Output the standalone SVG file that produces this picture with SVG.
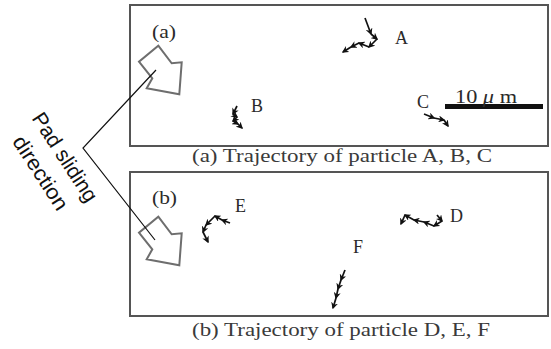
<svg xmlns="http://www.w3.org/2000/svg" width="551" height="349" viewBox="0 0 551 349">
<defs>
<style>
.box{fill:none;stroke:#555;stroke-width:2}
.lbl{font-family:"Liberation Serif","Times New Roman",serif;font-size:18px;fill:#2a2a2a}
.cap{font-family:"Liberation Serif","Times New Roman",serif;font-size:18px;fill:#3a3a3a}
.side{font-family:"Liberation Sans",Arial,sans-serif;font-size:21px;fill:#111}
.pad{fill:#fff;stroke:#6e6e6e;stroke-width:2;stroke-linejoin:miter}
.conn{fill:none;stroke:#111;stroke-width:1.2}
.tr line{stroke:#111;stroke-width:1.7;marker-end:url(#ah)}
</style>
<marker id="ah" viewBox="0 0 10 10" refX="8" refY="5" markerWidth="7" markerHeight="7" markerUnits="userSpaceOnUse" orient="auto">
<path d="M0,0 L10,5 L0,10 L3,5 z" fill="#111"/>
</marker>
<polygon id="padArrow" points="158.3,45.7 171.7,63.3 181.7,62.3 179.3,94.3 146.7,88.3 152.3,78.3 139,61.7"/>
</defs>
<g id="panel-a">
<rect class="box" x="130" y="5" width="418" height="141"/>
<text class="lbl" x="152" y="38" textLength="24" lengthAdjust="spacingAndGlyphs">(a)</text>
<use href="#padArrow" class="pad"/>
</g>
<g id="panel-b">
<rect class="box" x="130" y="172" width="418" height="144"/>
<text class="lbl" x="152" y="204" textLength="25" lengthAdjust="spacingAndGlyphs">(b)</text>
<use href="#padArrow" class="pad" transform="translate(0,171)"/>
</g>
<g id="particle-A">
<text class="lbl" x="395" y="44">A</text>
<g class="tr"><line x1="365" y1="18" x2="371" y2="34"/><line x1="371" y1="34" x2="377" y2="39"/><line x1="377" y1="39" x2="369" y2="47"/><line x1="369" y1="47" x2="359" y2="43"/><line x1="359" y1="43" x2="351" y2="47"/><line x1="351" y1="47" x2="343" y2="52"/></g>
</g>
<g id="particle-B">
<text class="lbl" x="251" y="112">B</text>
<g class="tr"><line x1="237" y1="106" x2="233" y2="114"/><line x1="233" y1="114" x2="237" y2="117"/><line x1="237" y1="117" x2="233" y2="121"/><line x1="233" y1="121" x2="238" y2="124"/><line x1="238" y1="124" x2="242" y2="128"/></g>
</g>
<g id="particle-C">
<text class="lbl" x="417" y="108">C</text>
<g class="tr"><line x1="424" y1="114" x2="434" y2="118"/><line x1="434" y1="118" x2="444" y2="120"/><line x1="444" y1="120" x2="448" y2="126"/></g>
</g>
<g id="scale-bar">
<rect x="445" y="104" width="98" height="5" fill="#111"/>
<text class="lbl" x="455" y="103" textLength="62" lengthAdjust="spacingAndGlyphs">10 <tspan font-style="italic">μ</tspan> m</text>
</g>
<g id="particle-D">
<text class="lbl" x="450" y="222">D</text>
<g class="tr"><line x1="437" y1="215" x2="442" y2="221"/><line x1="442" y1="221" x2="434" y2="226"/><line x1="434" y1="226" x2="424" y2="222"/><line x1="424" y1="222" x2="414" y2="220"/><line x1="414" y1="220" x2="405" y2="215"/><line x1="405" y1="215" x2="401" y2="224"/></g>
</g>
<g id="particle-E">
<text class="lbl" x="235" y="212">E</text>
<g class="tr"><line x1="230" y1="223" x2="222" y2="220"/><line x1="222" y1="220" x2="215" y2="216"/><line x1="215" y1="216" x2="206" y2="225"/><line x1="206" y1="225" x2="203" y2="232"/><line x1="203" y1="232" x2="208" y2="242"/></g>
</g>
<g id="particle-F">
<text class="lbl" x="353" y="253">F</text>
<g class="tr"><line x1="345" y1="270" x2="341" y2="280"/><line x1="341" y1="280" x2="338" y2="289"/><line x1="338" y1="289" x2="336" y2="298"/><line x1="336" y1="298" x2="333" y2="308"/></g>
</g>
<g id="captions">
<text class="cap" x="192" y="162" textLength="300" lengthAdjust="spacingAndGlyphs">(a) Trajectory of particle A, B, C</text>
<text class="cap" x="192" y="336" textLength="298" lengthAdjust="spacingAndGlyphs">(b) Trajectory of particle D, E, F</text>
</g>
<g id="pad-label" transform="translate(59,161) rotate(57)">
<text class="side" x="0" y="0" text-anchor="middle" textLength="102" lengthAdjust="spacingAndGlyphs">Pad sliding</text>
<text class="side" x="0" y="29" text-anchor="middle" textLength="84" lengthAdjust="spacingAndGlyphs">direction</text>
</g>
<g id="connectors">
<polyline class="conn" points="156,70 83,148 155,240"/>
</g>
</svg>
